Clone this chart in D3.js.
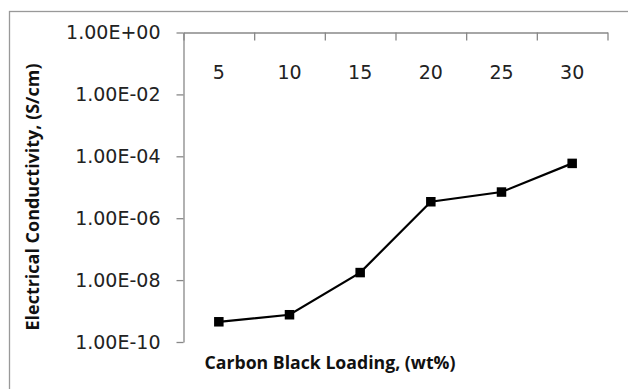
<!DOCTYPE html>
<html>
<head>
<meta charset="utf-8">
<script src="https://cdn.jsdelivr.net/npm/d3@7"></script>
<style>
  body { margin: 0; background: #fff; }
  .axis text { font-family: "DejaVu Sans", sans-serif; font-size: 19px; fill: #222; }
  .axis path, .axis line { stroke: #888; stroke-width: 1.3; }
  .title { font-family: "Open Sans", sans-serif; font-weight: bold; font-size: 18px; fill: #111; }
</style>
</head>
<body>
<div id="chart"></div>
<script>
// carbon black loading (wt%) and measured conductivity (S/cm)
const loadings = ["5", "10", "15", "20", "25", "30"];
const conductivity = [4.5e-10, 7.6e-10, 1.75e-8, 3.4e-6, 7.0e-6, 5.9e-5];
const yTicks = [1e0, 1e-2, 1e-4, 1e-6, 1e-8, 1e-10];

const W = 628, H = 389;
const margin = {top: 32.5, right: 20.5, bottom: 47, left: 183.5};
const width = W - margin.left - margin.right;
const height = H - margin.top - margin.bottom;

const svg = d3.select("#chart").append("svg")
    .attr("width", W)
    .attr("height", H);

// outer frame (cropped on right and bottom)
svg.append("rect")
    .attr("x", 9.5).attr("y", 11.5)
    .attr("width", W).attr("height", H)
    .attr("fill", "none")
    .attr("stroke", "#999")
    .attr("stroke-width", 1.3);

const g = svg.append("g").attr("transform", "translate(" + margin.left + "," + margin.top + ")");

const x = d3.scaleBand().domain(loadings).range([0, width]);
const xEdges = d3.scaleLinear().domain([0, loadings.length]).range([0, width]);
const y = d3.scaleLog().domain([1e-10, 1]).range([height, 0]);

// y axis
g.append("g")
    .attr("class", "axis")
    .call(d3.axisLeft(y)
        .tickValues(yTicks)
        .tickSize(7)
        .tickSizeOuter(0)
        .tickPadding(16)
        .tickFormat(d => d3.format(".2e")(d).toUpperCase().replace(/E([+-])(\d)$/, "E$10$2")));

// x axis on top, ticks between categories pointing down
g.append("g")
    .attr("class", "axis")
    .call(d3.axisBottom(xEdges)
        .tickValues(d3.range(loadings.length + 1))
        .tickSize(8)
        .tickSizeOuter(0)
        .tickFormat(""));

g.append("g")
    .attr("class", "axis")
    .selectAll("text")
    .data(loadings)
    .enter().append("text")
    .attr("x", d => x(d) + x.bandwidth() / 2)
    .attr("y", 40)
    .attr("dy", "0.32em")
    .attr("text-anchor", "middle")
    .text(d => d);

// line + square markers
const pts = loadings.map((k, i) => ({k: k, v: conductivity[i]}));
const line = d3.line()
    .x(d => x(d.k) + x.bandwidth() / 2)
    .y(d => y(d.v));

g.append("path")
    .datum(pts)
    .attr("d", line)
    .attr("fill", "none")
    .attr("stroke", "#000")
    .attr("stroke-width", 2.2);

const ms = 9.5;
g.selectAll("rect.marker")
    .data(pts)
    .enter().append("rect")
    .attr("class", "marker")
    .attr("x", d => x(d.k) + x.bandwidth() / 2 - ms / 2)
    .attr("y", d => y(d.v) - ms / 2)
    .attr("width", ms)
    .attr("height", ms)
    .attr("fill", "#000");

// axis titles
svg.append("text")
    .attr("class", "title")
    .attr("transform", "translate(33,197) rotate(-90)")
    .attr("text-anchor", "middle")
    .attr("dy", "0.35em")
    .attr("textLength", 267)
    .attr("lengthAdjust", "spacingAndGlyphs")
    .text("Electrical Conductivity, (S/cm)");

svg.append("text")
    .attr("class", "title")
    .attr("x", 330)
    .attr("y", 363)
    .attr("text-anchor", "middle")
    .attr("dy", "0.35em")
    .attr("textLength", 251)
    .attr("lengthAdjust", "spacingAndGlyphs")
    .text("Carbon Black Loading, (wt%)");
</script>
</body>
</html>
